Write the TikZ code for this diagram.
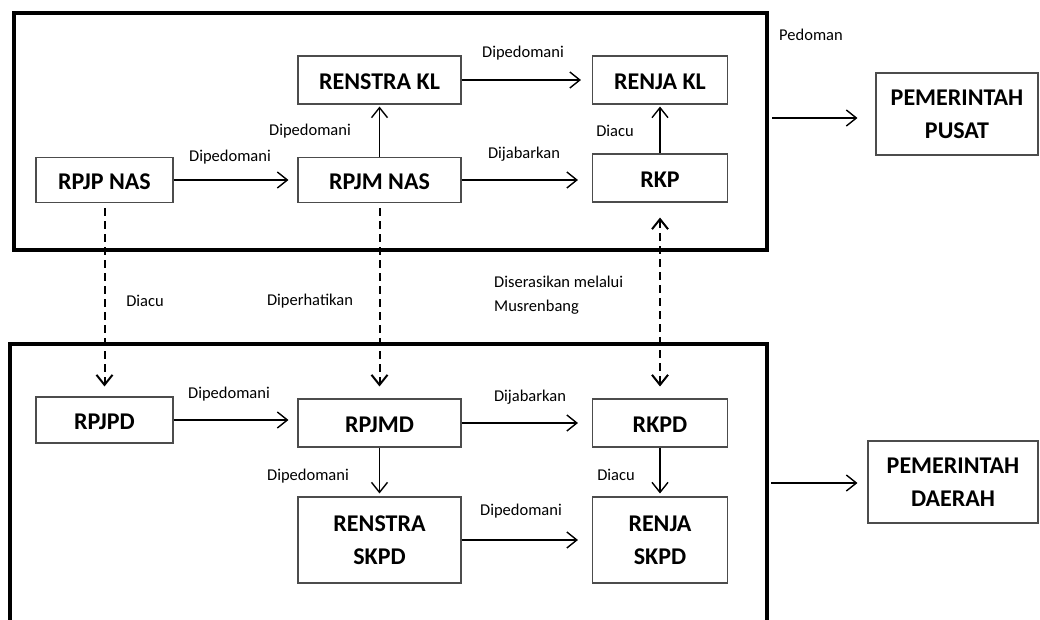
\documentclass[tikz,border=0pt]{standalone}
\usepackage{fontspec}
\setmainfont{Carlito}
\usetikzlibrary{arrows.meta}

\begin{document}
\begin{tikzpicture}[x=1pt,y=-1pt,
    box/.style={draw=black!70,line width=1.1pt,align=center,inner sep=0pt,
      font=\bfseries\fontsize{24}{33}\selectfont},
    onebox/.style={box,text height=19pt,text depth=0pt},
    lbl/.style={inner sep=0pt,align=left,font=\fontsize{16.5}{24}\selectfont},
    frame/.style={line width=4pt},
    arr/.style={line width=1.4pt,-{Straight Barb[length=10pt,width=16pt]}},
    dref/.style={line width=2pt,dash pattern=on 8pt off 5pt}]
  \useasboundingbox (0,0) rectangle (1040,619);
  \draw[frame] (14,13) rectangle (767,250);
  \draw[frame] (10,625) -- (10,344) -- (767,344) -- (767,625);
  \draw
    (379.5,80) node[onebox,minimum width=163pt,minimum height=48pt] (renstrakl){RENSTRA KL}
    (660,80) node[onebox,minimum width=135pt,minimum height=48pt] (renjakl){RENJA KL}
    (104.5,180) node[onebox,minimum width=137pt,minimum height=45pt] (rpjpnas){RPJP NAS}
    (379.5,180) node[onebox,minimum width=163pt,minimum height=45pt] (rpjmnas){RPJM NAS}
    (660,178) node[onebox,minimum width=135pt,minimum height=48pt] (rkp){RKP}
    (957,114) node[box,minimum width=162pt,minimum height=82pt] (pusat){PEMERINTAH\\PUSAT}
    (104.5,420) node[onebox,minimum width=137pt,minimum height=46pt] (rpjpd){RPJPD}
    (379.5,423) node[onebox,minimum width=163pt,minimum height=48pt] (rpjmd){RPJMD}
    (660,423) node[onebox,minimum width=135pt,minimum height=48pt] (rkpd){RKPD}
    (379.5,540) node[box,minimum width=163pt,minimum height=86pt] (renstraskpd){RENSTRA\\SKPD}
    (660,540) node[box,minimum width=135pt,minimum height=86pt] (renjaskpd){RENJA\\SKPD}
    (953,482) node[box,minimum width=170pt,minimum height=82pt] (daerah){PEMERINTAH\\DAERAH};
  % labels
  \draw
    (811,35) node[lbl] (pedoman){Pedoman}
    (523,53) node[lbl] (l1){Dipedomani}
    (310,131) node[lbl] (l2){Dipedomani}
    (615,131) node[lbl] (l3){Diacu}
    (230,157) node[lbl] (l4){Dipedomani}
    (524,154) node[lbl] (l5){Dijabarkan}
    (145,301) node[lbl] (l6){Diacu}
    (310,301) node[lbl] (l7){Diperhatikan}
    (494,295) node[lbl,anchor=west] (l8){Diserasikan melalui\\Musrenbang}
    (229,394) node[lbl] (l9){Dipedomani}
    (530,397) node[lbl] (l10){Dijabarkan}
    (308,476) node[lbl] (l11){Dipedomani}
    (616,475) node[lbl] (l12){Diacu}
    (521,511) node[lbl] (l13){Dipedomani};
  \coordinate (outpusat) at (772,118);
  \coordinate (outdaerah) at (771,483);
  \begin{scope}[arr]
    \draw[shorten >=11pt] (renstrakl) -- (renjakl);
    \draw[shorten >=2pt] (rpjmnas) -- (renstrakl);
    \draw[shorten >=2pt] (rkp) -- (renjakl);
    \draw[shorten >=9pt] (rpjpnas) -- (rpjmnas);
    \draw[shorten >=14pt] (rpjmnas) -- (rpjmnas -| rkp.west);
    \draw[shorten >=18pt] (outpusat) -- (outpusat -| pusat.west);
    \draw[shorten >=9pt] (rpjpd) -- (rpjpd -| rpjmd.west);
    \draw[shorten >=14pt] (rpjmd) -- (rkpd);
    \draw[shorten >=3pt] (rpjmd) -- (renstraskpd);
    \draw[shorten >=3pt] (rkpd) -- (renjaskpd);
    \draw[shorten >=14pt] (renstraskpd) -- (renjaskpd);
    \draw[shorten >=10pt] (outdaerah) -- (outdaerah -| daerah.west);
  \end{scope}
  \begin{scope}[dref]
    \draw[arr,dref,shorten <=5pt,shorten >=10pt] (rpjpnas) -- (rpjpd);
    \draw[arr,dref,shorten <=5pt,shorten >=12pt] (rpjmnas) -- (rpjmd);
    \draw[dref,{Straight Barb[length=10pt,width=16pt]}-{Straight Barb[length=10pt,width=16pt]},
      shorten <=15pt,shorten >=12pt] (rkp) -- (rkpd);
  \end{scope}
\end{tikzpicture}
\end{document}
